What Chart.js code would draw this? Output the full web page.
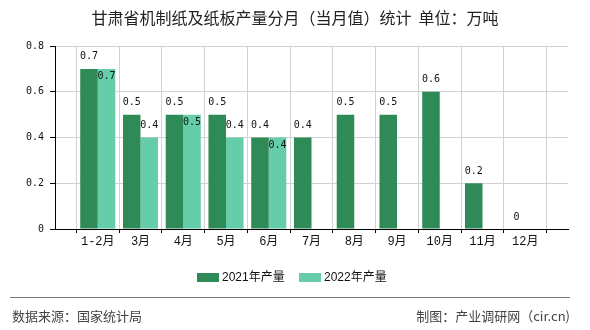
<!DOCTYPE html>
<html>
<head>
<meta charset="utf-8">
<script src="https://cdn.jsdelivr.net/npm/chart.js@4/dist/chart.umd.min.js"></script>
<style>
    html, body { margin: 0; padding: 0; background: #fff; }
    #wrap { width: 590px; height: 330px; }
</style>
</head>
<body>
<div id="wrap"><canvas id="chart" width="590" height="330"></canvas></div>
<script>
// category slots: empty ends keep the half-gap before 1-2月 and after 12月
const months = ['', '1-2月', '3月', '4月', '5月', '6月', '7月', '8月', '9月', '10月', '11月', '12月', ''];
const output2021 = [null, 0.7, 0.5, 0.5, 0.5, 0.4, 0.4, 0.5, 0.5, 0.6, 0.2, 0, null];
const output2022 = [null, 0.7, 0.4, 0.5, 0.4, 0.4, null, null, null, null, null, null, null];
const yTicks = [0, 0.2, 0.4, 0.6, 0.8];

const titleText = '甘肃省机制纸及纸板产量分月（当月值）统计  单位：万吨';
const sourceText = '数据来源：国家统计局';
const makerText = '制图：产业调研网（cir.cn)';

const monoFont = '"DejaVu Sans Mono", "Liberation Mono", monospace';
const cjkFont = '"Noto Sans CJK SC", "Liberation Sans", sans-serif';

// value labels, title, legend and footer
const decorations = {
    id: 'decorations',
    afterDatasetsDraw(chart) {
        const ctx = chart.ctx;
        ctx.save();
        ctx.font = '10px ' + monoFont;
        ctx.fillStyle = '#111';
        ctx.textAlign = 'center';
        ctx.textBaseline = 'middle';
        const first = chart.data.datasets[0].data;
        chart.data.datasets.forEach((ds, di) => {
            const meta = chart.getDatasetMeta(di);
            meta.data.forEach((bar, i) => {
                const v = ds.data[i];
                if (v === null || v === undefined) return;
                let y = bar.y - 12;
                // second label drops inside the bar when it would clash with the first
                if (di === 1 && first[i] === v) y = bar.y + 8;
                ctx.fillText(String(v), bar.x, y);
            });
        });
        ctx.restore();
    },
    afterDraw(chart) {
        const ctx = chart.ctx;
        ctx.save();

        // title
        ctx.font = '16px ' + cjkFont;
        ctx.fillStyle = '#222';
        ctx.textAlign = 'center';
        ctx.textBaseline = 'middle';
        ctx.fillText(titleText, 295, 18);

        // legend
        ctx.font = '12px "Liberation Sans", "Noto Sans CJK SC", sans-serif';
        ctx.textAlign = 'left';
        let x = 197;
        chart.data.datasets.forEach(ds => {
            ctx.fillStyle = ds.backgroundColor;
            ctx.fillRect(x, 273, 22, 9);
            ctx.fillStyle = '#111';
            ctx.fillText(ds.label, x + 25, 278);
            x += 102;
        });

        // footer
        ctx.strokeStyle = '#7a7a7a';
        ctx.lineWidth = 1;
        ctx.beginPath();
        ctx.moveTo(10, 297.5);
        ctx.lineTo(570, 297.5);
        ctx.stroke();

        ctx.font = '13px ' + cjkFont;
        ctx.fillStyle = '#444';
        ctx.fillText(sourceText, 12, 316);
        ctx.textAlign = 'right';
        ctx.fillText(makerText, 570, 316);
        ctx.restore();
    }
};

new Chart(document.getElementById('chart').getContext('2d'), {
    type: 'bar',
    data: {
        labels: months,
        datasets: [
            { label: '2021年产量', data: output2021, backgroundColor: '#2e8b57', borderWidth: 0 },
            { label: '2022年产量', data: output2022, backgroundColor: '#66cdaa', borderWidth: 0 }
        ]
    },
    options: {
        responsive: false,
        animation: false,
        layout: { padding: { top: 46, right: 22, bottom: 77, left: 0 } },
        datasets: {
            bar: { categoryPercentage: 0.82, barPercentage: 1 }
        },
        plugins: {
            legend: { display: false },
            title: { display: false },
            tooltip: { enabled: false }
        },
        scales: {
            x: {
                offset: false,
                grid: { color: '#d2d2d2', tickColor: '#000', tickLength: 4 },
                border: { color: '#000', width: 1 },
                ticks: {
                    autoSkip: false,
                    maxRotation: 0,
                    padding: 2,
                    color: '#111',
                    font: { family: '"Liberation Mono", "Noto Sans CJK SC", monospace', size: 12 }
                },
                afterFit(scale) { scale.height = 24; }
            },
            y: {
                min: 0,
                max: 0.8,
                afterBuildTicks(scale) { scale.ticks = yTicks.map(v => ({ value: v })); },
                grid: { color: '#d2d2d2', tickColor: '#000', tickLength: 5 },
                border: { color: '#000', width: 1 },
                ticks: {
                    padding: 6,
                    color: '#111',
                    font: { family: monoFont, size: 10 },
                    callback: v => String(v)
                },
                afterFit(scale) { scale.width = 55; }
            }
        }
    },
    plugins: [decorations]
});
</script>
</body>
</html>
